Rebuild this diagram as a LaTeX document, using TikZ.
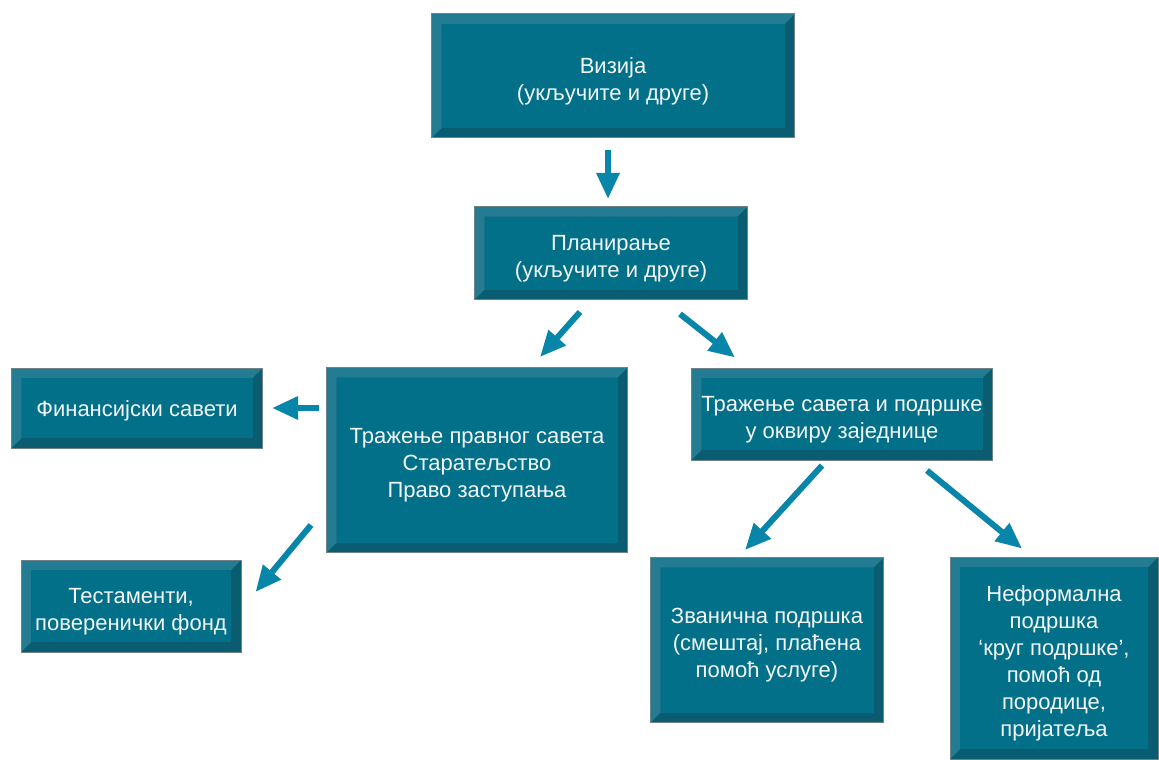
\documentclass[tikz,border=0pt]{standalone}
\usepackage{fontspec}
\setmainfont{Liberation Sans}
\usepackage{xcolor}
\usetikzlibrary{calc,arrows.meta}
\definecolor{boxColor}{RGB}{3, 112, 138}
\definecolor{boxLight}{RGB}{36, 124, 146}
\definecolor{boxDark}{RGB}{10, 92, 112}
\definecolor{edgeColor}{RGB}{110, 130, 138}
\definecolor{arrowColor}{RGB}{8, 134, 170}
\definecolor{labelColor}{RGB}{242, 246, 247}
\newcommand{\topgap}{\rule{0pt}{13pt}}

\tikzset{
    bevelbox/.style={
        draw=edgeColor, line width=0.5pt, inner sep=0pt, align=center,
        text=labelColor, font=\fontsize{11}{13.5}\selectfont,
        path picture={
            \coordinate (bnw) at (path picture bounding box.north west);
            \coordinate (bse) at (path picture bounding box.south east);
            \fill[boxDark] (bnw) rectangle (bse);
            \fill[boxLight] (bnw) -- (bnw -| bse) -- ($(bnw -| bse)+(-5pt,-5pt)$)
                -- ($(bnw)+(5pt,-5pt)$) -- ($(bnw |- bse)+(5pt,5pt)$) -- (bnw |- bse) -- cycle;
            \fill[boxColor] ($(bnw)+(5pt,-5pt)$) rectangle ($(bse)+(-5pt,5pt)$);
        }
    },
    flowarrow/.style={
        draw=arrowColor, line width=3pt,
        -{Triangle[width=11pt,length=13pt]}, arrowColor
    }
}

\begin{document}
\begin{tikzpicture}[x=0.5pt, y=-0.5pt]
    \useasboundingbox (0,0) rectangle (1159,759);

    % Top level boxes
    \node[bevelbox, minimum width=181.5pt, minimum height=62pt] (vision) at (613,76)
        {\topgap Визија\\(укључите и друге)};
    \node[bevelbox, minimum width=136.5pt, minimum height=46.5pt] (planning) at (611,253)
        {\topgap Планирање\\(укључите и друге)};

    % Middle row
    \node[bevelbox, minimum width=125.5pt, minimum height=40pt] (finance) at (137,408)
        {\rule{0pt}{11pt}Финансијски савети};
    \node[bevelbox, minimum width=150.5pt, minimum height=92.5pt] (legal) at (477,460)
        {\topgap Тражење правног савета\\Старатељство\\Право заступања};
    \node[bevelbox, minimum width=150.5pt, minimum height=46pt] (community) at (842,414)
        {\topgap Тражење савета и подршке\\у оквиру заједнице};

    % Bottom row
    \node[bevelbox, minimum width=110pt, minimum height=46pt] (wills) at (131,606)
        {\topgap Тестаменти,\\поверенички фонд};
    \node[bevelbox, minimum width=116.5pt, minimum height=82.5pt] (formal) at (767,640)
        {\topgap Званична подршка\\(смештај, плаћена\\помоћ услуге)};
    \node[bevelbox, minimum width=104pt, minimum height=101pt] (informal) at (1054,658)
        {\topgap Неформална\\подршка\\‘круг подршке’,\\помоћ од\\породице,\\пријатеља};

    % Arrows
    \draw[flowarrow] ($(vision.south)+(-5,12)$) -- ($(planning.north)+(-3,-7)$);
    \draw[flowarrow] ($(planning.south)+(-31,12)$) -- ($(legal.north)+(63,-10)$);
    \draw[flowarrow] ($(planning.south)+(69,14)$) -- ($(community.north)+(-107,-10)$);
    \draw[flowarrow] ($(legal.west)+(-7,-52)$) -- ($(finance.east)+(9,0)$);
    \draw[flowarrow] ($(legal.west)+(-15,65)$) -- ($(wills.east)+(14,-14)$);
    \draw[flowarrow] ($(community.south)+(-20,5)$) -- ($(formal.north)+(-22,-7)$);
    \draw[flowarrow] ($(community.south)+(85,10)$) -- ($(informal.north)+(-32,-8)$);
\end{tikzpicture}
\end{document}
